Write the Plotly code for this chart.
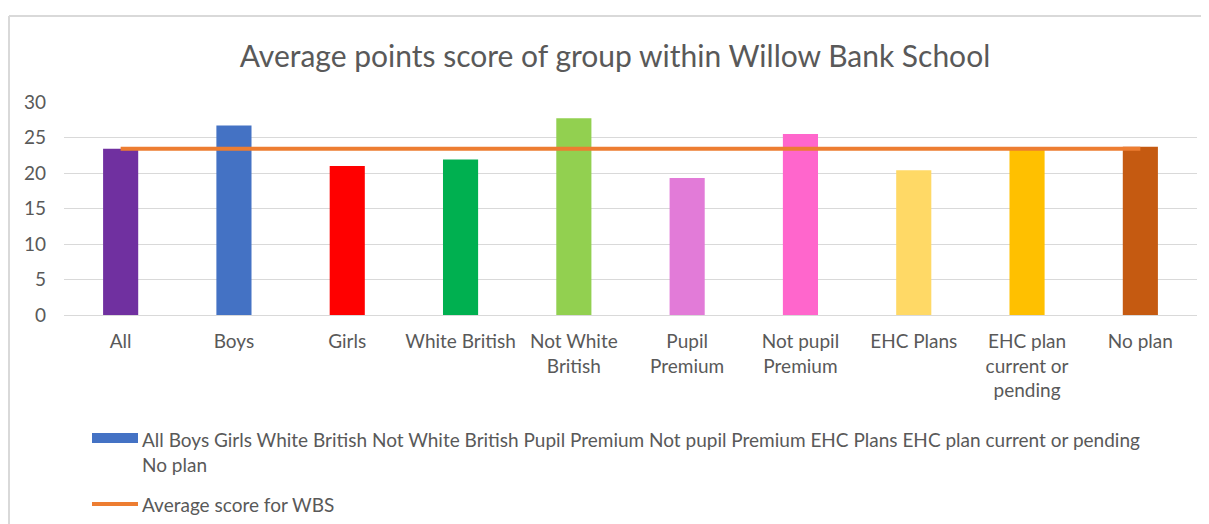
import plotly.graph_objects as go

categories = ["All", "Boys", "Girls", "White British", "Not White<br>British",
              "Pupil<br>Premium", "Not pupil<br>Premium", "EHC Plans",
              "EHC plan<br>current or<br>pending", "No plan"]
scores = [23.4, 26.7, 21.0, 21.9, 27.7, 19.3, 25.5, 20.4, 23.3, 23.7]
bar_colors = ["#7030A0", "#4472C4", "#FF0000", "#00B050", "#92D050",
              "#E27BD8", "#FF66CC", "#FFD966", "#FFC000", "#C55A11"]
avg_score = [23.4] * len(categories)
y_ticks = [0, 5, 10, 15, 20, 25, 30]

title_text = "Average points score of group within Willow Bank School"
bar_legend = ("All Boys Girls White British Not White British Pupil Premium "
              "Not pupil Premium EHC Plans EHC plan current or pending<br>No plan")
line_legend = "Average score for WBS"

OFF = 8  # page body margin
W, H = 1209 - OFF, 524 - OFF
# plot area in screen pixels
SL, SR, ST, SB = 64, 1197, 102, 315
L, R, T, B = SL - OFF, SR - OFF, ST - OFF, SB - OFF
FONT = "Lato"
GREY = "#595959"


def px(x):
    return (x - SL) / (SR - SL)


def py(y):
    return (SB - y) / (SB - ST)


fig = go.Figure()
fig.add_trace(go.Bar(x=categories, y=scores, marker=dict(color=bar_colors, line=dict(width=0)),
                     width=0.31, showlegend=False))
fig.add_trace(go.Scatter(x=categories, y=avg_score, mode="lines",
                         line=dict(color="#ED7D31", width=4), showlegend=False))

shapes = [
    dict(type="line", xref="paper", yref="paper", x0=px(9), x1=px(1215), y0=py(16), y1=py(16),
         line=dict(color="#D9D9D9", width=2)),
    dict(type="line", xref="paper", yref="paper", x0=px(9), x1=px(9), y0=py(16), y1=py(530),
         line=dict(color="#D9D9D9", width=2)),
    dict(type="rect", xref="paper", yref="paper", x0=px(92), x1=px(138), y0=py(443), y1=py(433),
         fillcolor="#4472C4", line=dict(width=0)),
    dict(type="line", xref="paper", yref="paper", x0=px(92), x1=px(138), y0=py(504), y1=py(504),
         line=dict(color="#ED7D31", width=4)),
]

annotations = [
    dict(text=bar_legend, xref="paper", yref="paper", x=px(140), y=py(426), xanchor="left",
         yanchor="top", align="left", showarrow=False,
         font=dict(family=FONT, size=19, color=GREY)),
    dict(text=line_legend, xref="paper", yref="paper", x=px(140), y=py(504), xanchor="left",
         yanchor="middle", align="left", showarrow=False,
         font=dict(family=FONT, size=19, color=GREY)),
]

fig.update_layout(
    width=W, height=H,
    margin=dict(l=L, r=W - R, t=T, b=H - B),
    paper_bgcolor="white", plot_bgcolor="white",
    title=dict(text=title_text, x=px(615), xref="paper", xanchor="center", y=1 - (56 - OFF) / H,
               yanchor="middle", yref="container",
               font=dict(family=FONT, size=30, color=GREY)),
    xaxis=dict(showgrid=False, showline=False, ticks="", tickfont=dict(family=FONT, size=19, color=GREY),
               ticklabelstandoff=13, fixedrange=True),
    yaxis=dict(range=[0, 30], tickvals=y_ticks, showgrid=True, gridcolor="#D9D9D9", gridwidth=1,
               zeroline=True, zerolinecolor="#D9D9D9", zerolinewidth=1, ticks="",
               tickfont=dict(family=FONT, size=19, color=GREY), ticklabelstandoff=17),
    bargap=0.69,
    shapes=shapes,
    annotations=annotations,
    showlegend=False,
)

fig.write_html("out.html")
